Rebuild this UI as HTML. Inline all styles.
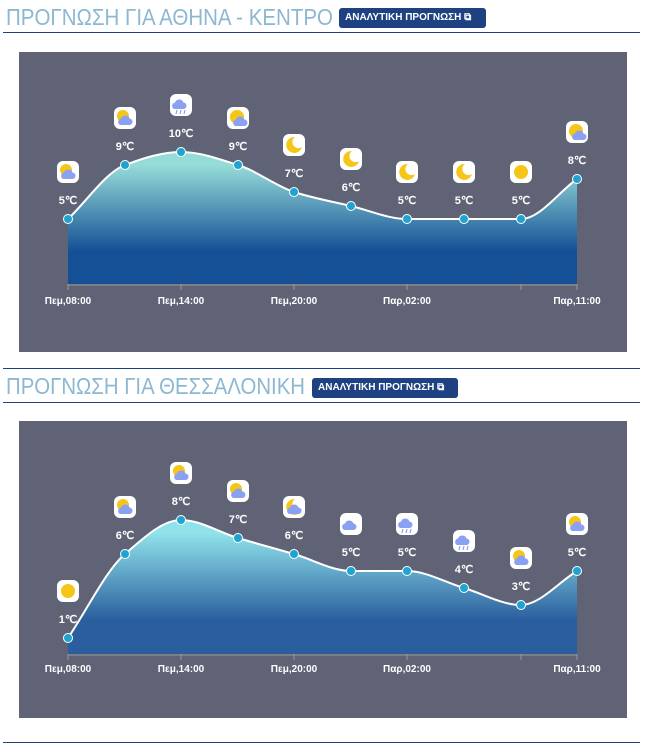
<!DOCTYPE html>
<html><head><meta charset="utf-8"><style>
body{margin:0;background:#fff;width:645px;height:750px;overflow:hidden;font-family:"Liberation Sans",sans-serif;position:relative}
.t{position:absolute;font-size:23px;color:#8cb8d2;font-weight:normal;white-space:nowrap;transform-origin:0 0}
.b{position:absolute;background:#1e4182;color:#fff;font-size:10px;font-weight:bold;border-radius:3px;height:20px;line-height:20px;padding:0 6px;white-space:nowrap;box-sizing:border-box}
.l{position:absolute;left:3px;width:637px;height:1px;background:#1e4182}
.p{position:absolute;left:19px;width:608px;background:#5f6375}
svg{position:absolute;left:0;top:0}
</style></head><body>
<div class="t" id="t1" style="left:6px;top:4px">ΠΡΟΓΝΩΣΗ ΓΙΑ ΑΘΗΝΑ - ΚΕΝΤΡΟ</div>
<div class="b" style="left:339px;top:8px;width:147px">ΑΝΑΛΥΤΙΚΗ ΠΡΟΓΝΩΣΗ ⧉</div>
<div class="l" style="top:32px"></div>
<div class="p" style="top:52px;height:300px"></div>
<div class="l" style="top:368px"></div>
<div class="t" id="t2" style="left:6px;top:373px">ΠΡΟΓΝΩΣΗ ΓΙΑ ΘΕΣΣΑΛΟΝΙΚΗ</div>
<div class="b" style="left:312px;top:378px;width:146px">ΑΝΑΛΥΤΙΚΗ ΠΡΟΓΝΩΣΗ ⧉</div>
<div class="l" style="top:402px"></div>
<div class="p" style="top:421px;height:297px"></div>
<div class="l" style="top:742px"></div>
<svg id="s" width="645" height="750"></svg>
<script>
[["t1",327],["t2",299]].forEach(function(a){var e=document.getElementById(a[0]);var w=e.getBoundingClientRect().width;e.style.transform="scaleX("+(a[1]/w)+")";});
var xs=[68,125,181,238,294,351,407,464,521,577];
var charts=[
{y:[219,165,152,165,192,206,219,219,219,179],t:[5,9,10,9,7,6,5,5,5,8],base:284,lab:304,c1:"#95dcd8",c2:"#155096",
 ic:["pc","pc","r","ps","m","m","m","m","s","ps"]},
{y:[638,554,520,538,554,571,571,588,605,571],t:[1,6,8,7,6,5,5,4,3,5],base:654,lab:672,c1:"#8fe2ea",c2:"#2a5e9e",
 ic:["s","pc","pc","pc","mc","c","r","r","pc","pc"]}];
var h='<defs>';
charts.forEach(function(c,i){h+='<linearGradient id="g'+i+'" x1="0" y1="0" x2="0" y2="1"><stop offset="0.1" stop-color="'+c.c1+'"/><stop offset="0.75" stop-color="'+c.c2+'"/></linearGradient>';});
h+='</defs>';
function path(y){var n=10,d=[],m=[];for(var i=0;i<n-1;i++)d.push((y[i+1]-y[i])/(xs[i+1]-xs[i]));
m[0]=d[0];m[n-1]=d[n-2];for(i=1;i<n-1;i++){m[i]=(d[i-1]*d[i]<=0)?0:2*d[i-1]*d[i]/(d[i-1]+d[i]);}
var s='M'+xs[0]+','+y[0];for(i=0;i<n-1;i++){var dx=(xs[i+1]-xs[i])/3;
s+=' C'+(xs[i]+dx)+','+(y[i]+m[i]*dx)+' '+(xs[i+1]-dx)+','+(y[i+1]-m[i+1]*dx)+' '+xs[i+1]+','+y[i+1];}return s;}
function icon(k,x,y){var s='<rect x="'+(x-11)+'" y="'+(y-11)+'" width="22" height="22" rx="6" fill="#fff"/>';
var sun='<circle cx="'+(x-2)+'" cy="'+(y-2)+'" r="6" fill="#f5c518"/>';
var cl=function(cx,cy){return '<path d="M'+(cx-7)+','+(cy+4)+' a3.5,3.5 0 0 1 1,-6.5 a4.5,4.5 0 0 1 8.5,0 a3.2,3.2 0 0 1 -0.5,6.5 z" fill="#8aa0f0"/>';};
if(k=="s")s+='<circle cx="'+x+'" cy="'+y+'" r="7" fill="#f5c518"/>';
else if(k=="m"||k=="mc")s+='<path d="M'+(x+1)+','+(y-8)+' a8,8 0 1 0 7,10 a6,6 0 0 1 -7,-10z" fill="#f5c518"/>'+(k=="mc"?cl(x+2,y+3):'');
else if(k=="pc")s+=sun+cl(x+2,y+3);
else if(k=="ps")s+='<circle cx="'+(x-1)+'" cy="'+(y-1)+'" r="7" fill="#f5c518"/>'+cl(x+4,y+4);
else if(k=="c")s+=cl(x,y+2);
else if(k=="r")s+=cl(x,y)+'<path d="M'+(x-4)+','+(y+5)+' l-1,4 M'+x+','+(y+5)+' l-1,4 M'+(x+4)+','+(y+5)+' l-1,4" stroke="#8aa0f0" stroke-width="1.2"/>';
return s;}
charts.forEach(function(c,i){
var d=path(c.y);
h+='<path d="'+d+' L577,'+c.base+' L68,'+c.base+' Z" fill="url(#g'+i+')"/>';
h+='<path d="'+d+'" fill="none" stroke="#fff" stroke-width="2"/>';
h+='<line x1="68" y1="'+(c.base+1)+'" x2="577" y2="'+(c.base+1)+'" stroke="#999" stroke-width="1"/>';
[68,181,294,407,521,577].forEach(function(x){h+='<line x1="'+x+'" y1="'+c.base+'" x2="'+x+'" y2="'+(c.base+6)+'" stroke="#999"/>';});
[["Πεμ,08:00",68],["Πεμ,14:00",181],["Πεμ,20:00",294],["Παρ,02:00",407],["Παρ,11:00",577]].forEach(function(a){
h+='<text x="'+a[1]+'" y="'+c.lab+'" fill="#fff" font-size="10" font-weight="bold" text-anchor="middle" font-family="Liberation Sans">'+a[0]+'</text>';});
for(var j=0;j<10;j++){var x=xs[j],y=c.y[j];
h+='<circle cx="'+x+'" cy="'+y+'" r="4.5" fill="#1fa3d0" stroke="#fff" stroke-width="1"/>';
h+='<text x="'+x+'" y="'+(y-15)+'" fill="#fff" font-size="11" font-weight="bold" text-anchor="middle" font-family="Liberation Sans">'+c.t[j]+'℃</text>';
h+=icon(c.ic[j],x,y-47);}
});
document.getElementById('s').innerHTML=h;
</script>
</body></html>
